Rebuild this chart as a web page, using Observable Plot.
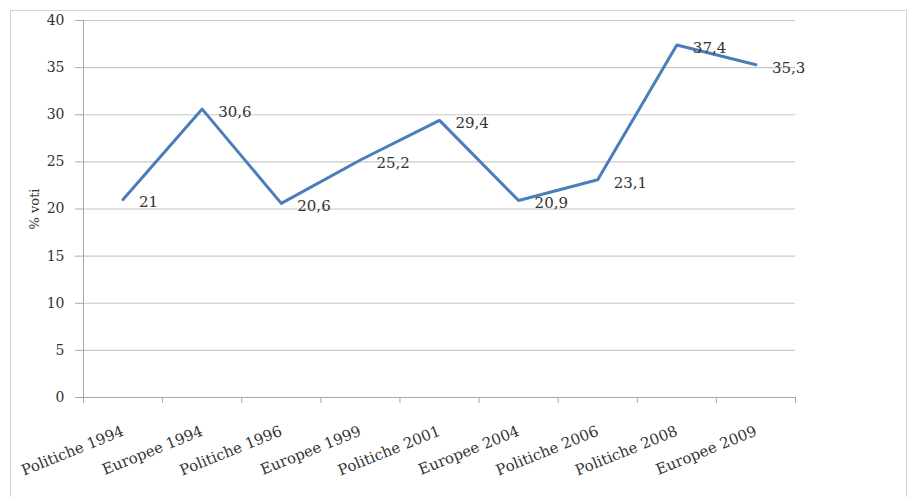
<!DOCTYPE html>
<html>
<head>
<meta charset="utf-8">
<script src="https://cdn.jsdelivr.net/npm/d3@7"></script>
<script src="https://cdn.jsdelivr.net/npm/@observablehq/plot@0.6"></script>
<style>
  html, body { margin: 0; padding: 0; background: #fff; }
  #wrap { position: relative; width: 912px; height: 497px; }
  #border { position: absolute; left: 10px; top: 10px; width: 897px; height: 500px; border: 1px solid #d4d4d4; box-sizing: border-box; pointer-events: none; }
  #wrap svg, #wrap svg text { font-family: 'DejaVu Serif', serif !important; }
</style>
</head>
<body>
<div id="wrap"><div id="border"></div></div>
<script>
const categories = ["Politiche 1994", "Europee 1994", "Politiche 1996", "Europee 1999", "Politiche 2001", "Europee 2004", "Politiche 2006", "Politiche 2008", "Europee 2009"];
const values = [21, 30.6, 20.6, 25.2, 29.4, 20.9, 23.1, 37.4, 35.3];
const yTicks = [0, 5, 10, 15, 20, 25, 30, 35, 40];
const yLabel = "% voti";

const data = categories.map((c, i) => ({i, c, v: values[i]}));
const idx = categories.map((c, i) => i);
const bounds = [...idx.map(i => i - 0.5), categories.length - 0.5];
const fmt = v => String(v).replace(".", ",");
const serif = "DejaVu Serif";

const chart = Plot.plot({
  width: 912,
  height: 497,
  marginLeft: 83,
  marginRight: 117,
  marginTop: 20,
  marginBottom: 100,
  style: {fontSize: "14px", color: "#333", background: "transparent", fontFamily: serif},
  x: {type: "linear", domain: [-0.5, categories.length - 0.5]},
  y: {domain: [0, 40]},
  marks: [
    Plot.gridY(yTicks, {stroke: "#c8c8c8", strokeOpacity: 1, strokeWidth: 1.2}),
    Plot.axisY({ticks: yTicks, tickSize: 8, tickPadding: 11, stroke: "#a8a8a8", fontSize: 14, fontFamily: serif,
      label: yLabel, labelAnchor: "center", labelArrow: "none", labelOffset: 54}),
    Plot.ruleX([-0.5], {stroke: "#a8a8a8"}),
    Plot.ruleY([0], {stroke: "#a8a8a8"}),
    Plot.axisX({ticks: bounds, tickSize: 6, tickFormat: () => "", stroke: "#a8a8a8", label: null}),
    Plot.axisX({ticks: idx, tickSize: 0, tickPadding: 33, tickRotate: -22, tickFormat: i => categories[i], fontSize: 15, fontFamily: serif, label: null}),
    Plot.line(data, {x: "i", y: "v", stroke: "#4a7ebb", strokeWidth: 3}),
    Plot.text(data, {x: "i", y: "v", text: d => fmt(d.v), textAnchor: "start", dx: 16, dy: 3, fontSize: 15, fontFamily: serif, fill: "#333"})
  ]
});
document.getElementById("wrap").appendChild(chart);
chart.style.position = "absolute";
chart.style.left = "0";
chart.style.top = "0";
chart.querySelectorAll("[aria-label='y-axis label'] text, g[aria-label='y-axis label']").forEach(el => { el.setAttribute("font-size", "13"); });
</script>
</body>
</html>
